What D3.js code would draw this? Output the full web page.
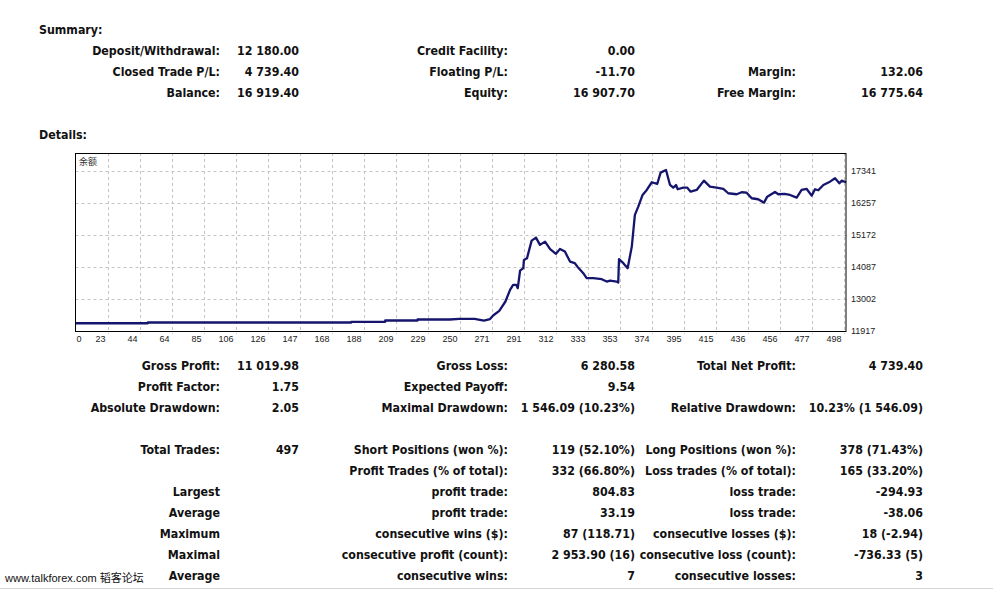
<!DOCTYPE html>
<html>
<head>
<meta charset="utf-8">
<script src="https://cdn.jsdelivr.net/npm/d3@7"></script>
<style>
  body { margin: 0; background: #fff; }
  text.b { font-family: "DejaVu Sans Condensed", "DejaVu Sans", sans-serif; font-weight: bold; font-size: 12.3px; fill: #111; }
  text.ax { font-family: "Liberation Sans", Arial, sans-serif; font-size: 9px; fill: #222; }
</style>
</head>
<body>
<svg id="report" width="993" height="589"></svg>
<script>
// ---- summary block ----
var summaryLabels = [
  ["Deposit/Withdrawal:", "Credit Facility:", ""],
  ["Closed Trade P/L:", "Floating P/L:", "Margin:"],
  ["Balance:", "Equity:", "Free Margin:"]
];
var summaryValues = [
  ["12 180.00", "0.00", ""],
  ["4 739.40", "-11.70", "132.06"],
  ["16 919.40", "16 907.70", "16 775.64"]
];

// ---- details block (null = blank row gap) ----
var detailLabels = [
  ["Gross Profit:", "Gross Loss:", "Total Net Profit:"],
  ["Profit Factor:", "Expected Payoff:", ""],
  ["Absolute Drawdown:", "Maximal Drawdown:", "Relative Drawdown:"],
  null,
  ["Total Trades:", "Short Positions (won %):", "Long Positions (won %):"],
  ["", "Profit Trades (% of total):", "Loss trades (% of total):"],
  ["Largest", "profit trade:", "loss trade:"],
  ["Average", "profit trade:", "loss trade:"],
  ["Maximum", "consecutive wins ($):", "consecutive losses ($):"],
  ["Maximal", "consecutive profit (count):", "consecutive loss (count):"],
  ["Average", "consecutive wins:", "consecutive losses:"]
];
var detailValues = [
  ["11 019.98", "6 280.58", "4 739.40"],
  ["1.75", "9.54", ""],
  ["2.05", "1 546.09 (10.23%)", "10.23% (1 546.09)"],
  null,
  ["497", "119 (52.10%)", "378 (71.43%)"],
  ["", "332 (66.80%)", "165 (33.20%)"],
  ["", "804.83", "-294.93"],
  ["", "33.19", "-38.06"],
  ["", "87 (118.71)", "18 (-2.94)"],
  ["", "2 953.90 (16)", "-736.33 (5)"],
  ["", "7", "3"]
];

// ---- balance curve (trade number, balance) ----
var tradeNo = [0, 47, 47, 179, 179, 201, 201, 222, 222, 243, 249, 259, 265, 269, 271, 275, 279, 282, 284, 286, 287,
  288.5, 290.6, 291, 293, 296, 298.8, 301.4, 304.7, 308, 311.8, 314.4, 317.6, 320.9, 324, 326, 329.5, 331.7, 336,
  341.5, 344.7, 346.9, 351.2, 352.2, 352.7, 355.5, 358.3, 361, 363, 365.2, 368, 370.7, 374, 377.5, 379.7, 383.2,
  385.8, 387.9, 389.7, 390.8, 394.4, 397, 399.2, 403.1, 407.8, 411.7, 416, 420.4, 423.6, 429, 432.3, 435.5, 438.8,
  443, 446.8, 448.9, 453.9, 456.1, 460, 463.7, 468, 471.2, 474.5, 477.7, 479.9, 482, 485.3, 489.6, 492.9, 495.7,
  497.2, 500];
var balance = [12180, 12180, 12204, 12204, 12228, 12228, 12272, 12272, 12306, 12306, 12329, 12329, 12272, 12319,
  12441, 12600, 12915, 13310, 13478, 13478, 13367, 13962, 14043, 14323, 14381, 14976, 15078, 14831, 14942, 14685,
  14526, 14695, 14604, 14266, 14212, 14077, 13874, 13705, 13705, 13671, 13590, 13624, 13590, 13556, 14347, 14212,
  14043, 14773, 15845, 16125, 16520, 16690, 16950, 16892, 17275, 17366, 16858, 16767, 16858, 16713, 16767, 16767,
  16632, 16690, 17004, 16801, 16767, 16723, 16578, 16544, 16612, 16598, 16409, 16375, 16260, 16463, 16622, 16544,
  16560, 16520, 16429, 16690, 16723, 16497, 16713, 16680, 16858, 16970, 17085, 16916, 17004, 16950];

var xTickLabels = ["0", "23", "44", "64", "85", "106", "126", "147", "168", "188", "209", "229", "250", "271", "291",
  "312", "333", "353", "374", "395", "415", "436", "456", "477", "498"];
var yTickValues = [11917, 13002, 14087, 15172, 16257, 17341];

var svg = d3.select("#report");
svg.append("rect").attr("width", 993).attr("height", 589).attr("fill", "#fff");

var colLabelRight = [220, 508, 796],
    colValueRight = [299, 635, 923];

function drawTable(labels, values, rowTop) {
  labels.forEach(function (row, r) {
    if (!row) return;
    var ty = rowTop + r * 21;
    row.forEach(function (lab, c) {
      svg.append("text").attr("class", "b").attr("x", colLabelRight[c]).attr("y", ty)
        .attr("dy", "0.35em").attr("text-anchor", "end").text(lab);
      svg.append("text").attr("class", "b").attr("x", colValueRight[c]).attr("y", ty)
        .attr("dy", "0.35em").attr("text-anchor", "end").text(values[r][c]);
    });
  });
}

svg.append("text").attr("class", "b").attr("x", 39).attr("y", 30).attr("dy", "0.35em").text("Summary:");
drawTable(summaryLabels, summaryValues, 50.5);
svg.append("text").attr("class", "b").attr("x", 39).attr("y", 135).attr("dy", "0.35em").text("Details:");
drawTable(detailLabels, detailValues, 366);

// ---- chart ----
var plotLeft = 75.5, plotRight = 846, plotTop = 153, plotBottom = 331;
var x = d3.scaleLinear().domain([0, 500]).range([plotLeft, plotRight]);
var y = d3.scaleLinear().domain([11917, 17341]).range([331, 170.7]);
var xGrid = d3.scalePoint().domain(xTickLabels).range([plotLeft, plotLeft + 768]);

var chart = svg.append("g");

chart.selectAll("line.hg").data(yTickValues.slice(1))
  .enter().append("line").attr("class", "hg")
  .attr("x1", plotLeft).attr("x2", plotRight + 3)
  .attr("y1", function (d) { return Math.round(y(d)) + 0.5; })
  .attr("y2", function (d) { return Math.round(y(d)) + 0.5; })
  .attr("stroke", "#c4c4c4").attr("stroke-dasharray", "3,3");

chart.selectAll("line.vg").data(xTickLabels.slice(1))
  .enter().append("line").attr("class", "vg")
  .attr("x1", function (d) { return Math.round(xGrid(d)) + 0.5; })
  .attr("x2", function (d) { return Math.round(xGrid(d)) + 0.5; })
  .attr("y1", plotTop).attr("y2", plotBottom + 3)
  .attr("stroke", "#c4c4c4").attr("stroke-dasharray", "3,3");

var line = d3.line()
  .x(function (d, i) { return x(tradeNo[i]); })
  .y(function (d) { return y(d); });

chart.append("path").datum(balance)
  .attr("d", line)
  .attr("fill", "none")
  .attr("stroke", "#15156e")
  .attr("stroke-width", 2.3)
  .attr("stroke-linejoin", "round");

chart.append("rect")
  .attr("x", plotLeft).attr("y", plotTop + 0.5)
  .attr("width", plotRight - plotLeft).attr("height", plotBottom - plotTop)
  .attr("fill", "none").attr("stroke", "#000").attr("stroke-width", 1);

chart.append("text")
  .attr("x", 79).attr("y", 162).attr("dy", "0.35em")
  .style("font-family", "'Noto Sans CJK SC', sans-serif").style("font-size", "9px").style("fill", "#333")
  .text("余额");

chart.selectAll("text.yl").data(yTickValues)
  .enter().append("text").attr("class", "ax")
  .attr("x", 851).attr("y", function (d) { return y(d); }).attr("dy", "0.35em")
  .text(function (d) { return d; });

chart.selectAll("text.xl").data(xTickLabels)
  .enter().append("text").attr("class", "ax")
  .attr("x", function (d, i) { return i === 0 ? xGrid(d) + 1 : xGrid(d) - 2; })
  .attr("y", 339).attr("dy", "0.35em")
  .attr("text-anchor", function (d, i) { return i === 0 ? "start" : "end"; })
  .text(function (d) { return d; });

// watermark + bottom rule
svg.append("text")
  .attr("x", 5).attr("y", 578).attr("dy", "0.35em")
  .style("font-family", "'Liberation Sans', 'Noto Sans CJK SC', sans-serif").style("font-size", "11px").style("fill", "#111")
  .text("www.talkforex.com 韬客论坛");
svg.append("line").attr("x1", 0).attr("x2", 993).attr("y1", 588.5).attr("y2", 588.5)
  .attr("stroke", "#d4d4d4");
</script>
</body>
</html>
